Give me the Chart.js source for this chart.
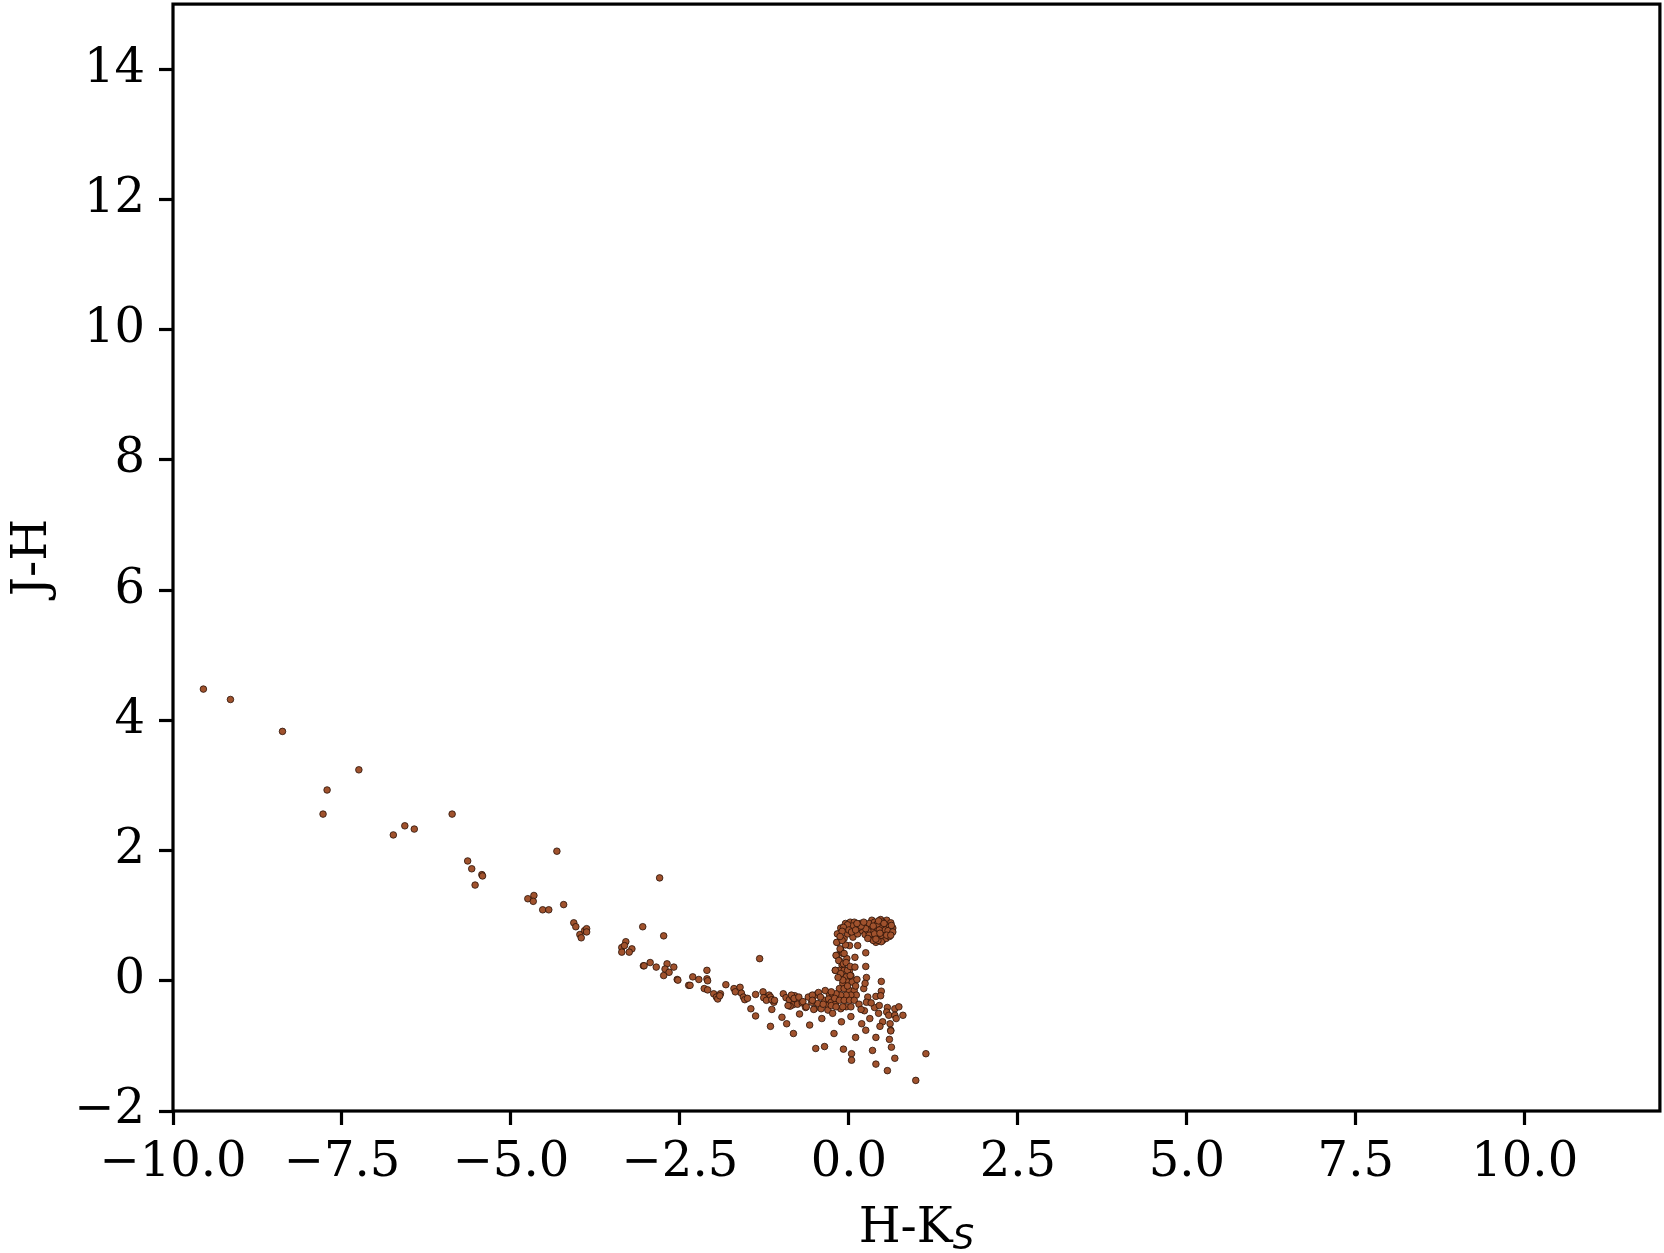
<!DOCTYPE html>
<html>
<head>
<meta charset="utf-8">
<script src="https://cdn.jsdelivr.net/npm/chart.js@4/dist/chart.umd.min.js"></script>
<style>
  html, body { margin: 0; padding: 0; background: #ffffff; }
  #wrap { width: 1664px; height: 1253px; position: relative; }
</style>
</head>
<body>
<div id="wrap"><canvas id="c" width="1664" height="1253"></canvas></div>
<script>
// ---- Data (H-Ks, J-H) ----
const xTickValues = [-10, -7.5, -5, -2.5, 0, 2.5, 5, 7.5, 10];
const yTickValues = [-2, 0, 2, 4, 6, 8, 10, 12, 14];
const xAxisTitle = 'H-K';
const xAxisSub = 'S';
const yAxisTitle = 'J-H';

const tailPoints = [
  [-9.55,4.48],[-9.15,4.32],[-8.38,3.83],[-7.25,3.24],[-7.72,2.93],[-7.78,2.56],[-5.87,2.56],
  [-6.57,2.38],[-6.43,2.33],[-6.74,2.24],[-4.32,1.99],[-5.64,1.84],[-5.58,1.72],[-5.43,1.63],
  [-5.42,1.61],[-5.53,1.47],[-2.80,1.58],[-4.75,1.26],[-4.66,1.31],[-4.67,1.22],[-4.53,1.09],
  [-4.44,1.09],[-4.22,1.17],[-4.07,0.89],[-4.04,0.83],[-3.98,0.71],[-3.96,0.66],[-3.91,0.77],
  [-3.88,0.80],[-3.88,0.75],[-3.05,0.83],[-2.74,0.69],[-3.36,0.51],[-3.30,0.60],[-3.32,0.54],
  [-3.21,0.49],[-3.25,0.44],[-3.36,0.44]
];

const bandPoints = [
  [-3.04,0.23],[-3.03,0.23],[-2.94,0.28],[-2.85,0.21],[-2.69,0.26],[-2.72,0.18],[-2.66,0.13],
  [-2.59,0.21],[-2.74,0.08],[-2.54,0.02],[-2.53,0.01],[-2.37,-0.07],[-2.35,-0.07],[-2.31,0.06],
  [-2.22,0.02],[-2.10,0.16],[-2.10,0.03],[-2.09,0.00],[-2.14,-0.12],[-2.09,-0.14],[-2.00,-0.20],
  [-1.96,-0.25],[-1.94,-0.28],[-1.90,-0.20],[-1.91,-0.23],[-1.82,-0.06],[-1.70,-0.12],[-1.68,-0.17],
  [-1.61,-0.10],[-1.59,-0.19],[-1.56,-0.25],[-1.54,-0.29],[-1.50,-0.27],[-1.45,-0.43],[-1.38,-0.54],
  [-1.38,-0.21],[-1.32,0.34],[-1.27,-0.17],[-1.24,-0.26],[-1.18,-0.22],[-1.16,-0.25],[-1.13,-0.30],
  [-1.11,-0.33],[-1.14,-0.44],[-1.16,-0.70],[-1.26,-0.26],[-1.22,-0.30],[-1.14,-0.29],[-1.10,-0.30]
];

const nearZeroPoints = [
  [-0.99,-0.56],[-0.92,-0.66],[-0.82,-0.81],[-0.97,-0.20],[-0.93,-0.26],[-0.88,-0.29],[-0.83,-0.25],
  [-0.80,-0.23],[-0.78,-0.30],[-0.83,-0.37],[-0.87,-0.39],[-0.76,-0.36],[-0.69,-0.34],[-0.64,-0.41],
  [-0.73,-0.51],[-0.58,-0.68],[-0.49,-1.04],[-0.36,-1.01],[-0.40,-0.58],[-0.85,-0.22],[-0.81,-0.27],
  [-0.74,-0.25],[-0.90,-0.38],[-0.68,-0.32],[-0.63,-0.40],[-0.54,-0.27],[-0.50,-0.22],[-0.46,-0.35],
  [-0.41,-0.43],[-0.36,-0.30],[-0.31,-0.38],[-0.29,-0.20],[-0.24,-0.25],[-0.51,-0.43],[-0.31,-0.45],
  [-0.24,-0.50],[-0.12,-0.43],[-0.04,-0.40],[-0.45,-0.18],[-0.42,-0.25],[-0.35,-0.15],[-0.30,-0.28],
  [-0.26,-0.33],[-0.20,-0.36],[-0.55,-0.33],[-0.60,-0.25],[-0.38,-0.36],[-0.54,-0.22],[-0.54,-0.30],
  [-0.52,-0.44]
];

const columnPoints = [
  [-0.14,0.72],[-0.17,0.59],[-0.12,0.47],[-0.18,0.39],[-0.14,0.31],[-0.09,0.42],[-0.03,0.34],
  [-0.10,0.24],[-0.20,0.16],[-0.14,0.16],[-0.07,0.16],[0.01,0.16],[-0.12,0.08],[-0.04,0.06],
  [0.03,0.08],[0.06,0.01],[-0.02,-0.02],[-0.09,-0.04],[-0.14,-0.12],[-0.07,-0.12],[0.01,-0.15],
  [0.08,-0.15],[0.11,-0.22],[0.03,-0.22],[-0.04,-0.22],[-0.12,-0.22],[-0.19,-0.20],[-0.26,-0.17],
  [-0.21,-0.27],[-0.14,-0.30],[-0.07,-0.30],[0.01,-0.30],[0.08,-0.30],[-0.26,-0.38],[-0.19,-0.40],
  [-0.09,-0.40],[0.03,-0.40],[-0.12,0.81],[-0.17,0.72],[-0.18,0.59],[-0.13,0.49],[-0.19,0.39],
  [-0.07,0.42],[-0.15,0.31],[-0.08,0.26],[-0.20,0.16],[-0.12,0.11],[-0.02,0.16],[0.02,0.08],
  [-0.09,0.01],[0.05,-0.02],[0.01,0.54],[-0.07,0.65],[-0.02,0.72],[0.06,0.67],[0.13,0.72],
  [-0.05,0.55],[-0.10,0.62],[-0.04,0.28],[0.02,0.22],[-0.16,0.05],[0.10,-0.08],[0.12,0.02],
  [-0.02,-0.08]
];

const spreadPoints = [
  [0.13,0.54],[0.25,0.43],[0.09,0.36],[0.25,0.22],[0.09,0.21],[0.26,0.05],[0.22,-0.12],[0.48,-0.01],
  [0.48,-0.16],[0.40,-0.24],[0.47,-0.23],[0.28,-0.25],[0.15,-0.36],[0.24,-0.04],[0.26,-0.33],
  [0.23,-0.46],[0.31,-0.58],[0.38,-0.41],[0.45,-0.38],[0.44,-0.50],[0.50,-0.63],[0.46,-0.70],
  [0.57,-0.41],[0.56,-0.48],[0.59,-0.53],[0.68,-0.43],[0.74,-0.40],[0.68,-0.53],[0.70,-0.58],
  [0.80,-0.53],[0.61,-0.66],[0.62,-0.76],[0.60,-0.90],[0.63,-1.02],[0.68,-1.19],[-0.11,-0.63],
  [0.03,-0.55],[0.19,-0.66],[0.25,-0.76],[-0.22,-0.81],[0.10,-0.87],[0.40,-0.87],[0.62,-0.77],
  [-0.08,-1.05],[0.04,-1.12],[0.04,-1.22],[0.35,-1.07],[0.40,-1.28],[0.57,-1.38],[1.14,-1.12],
  [0.99,-1.53],[0.33,-0.34],[0.18,-0.44]
];

const loopPoints = [
  [-0.05,0.88],[0.02,0.90],[0.08,0.90],[0.17,0.88],[0.34,0.93],[0.47,0.94],[0.56,0.93],[0.62,0.89],
  [0.65,0.81],[0.61,0.75],[0.50,0.84],[0.40,0.80],[0.30,0.81],[0.20,0.77],[0.24,0.71],[0.33,0.65],
  [0.40,0.59],[0.45,0.65],[0.52,0.70],[0.59,0.72],[0.38,0.67],[0.10,0.85],[0.25,0.86],[0.30,0.88],
  [0.38,0.90],[0.42,0.87],[0.50,0.90],[0.55,0.85],[0.60,0.83],[0.45,0.78],[0.35,0.75],[0.28,0.77],
  [0.42,0.70],[0.50,0.62],[0.55,0.65],[0.60,0.68],[0.48,0.60],[0.43,0.62],[0.36,0.62],[0.30,0.70],
  [0.25,0.80],[0.15,0.82],[0.05,0.84],[-0.02,0.86],[-0.08,0.82],[-0.10,0.76],[-0.13,0.68],[0.00,0.78],
  [0.04,0.75],[0.10,0.78],[0.18,0.84],[0.54,0.78],[0.58,0.77],[0.63,0.85],[0.65,0.75],[0.44,0.92],
  [0.52,0.88],[0.36,0.84],[0.22,0.90],[0.12,0.88],[0.48,0.70],[0.56,0.70],[0.38,0.72],[0.28,0.65],
  [0.62,0.70],[0.40,0.64],[0.46,0.73]
];

const allPoints = [].concat(tailPoints, bandPoints, nearZeroPoints, columnPoints, spreadPoints, loopPoints)
  .map(p => ({ x: p[0], y: p[1] }));

const FONT = "'DejaVu Serif'";
const fmtMinus = s => String(s).replace('-', '\u2212');

const framePlugin = {
  id: 'frame',
  afterDraw(chart) {
    const { ctx, chartArea: a } = chart;
    ctx.save();
    ctx.strokeStyle = '#000';
    ctx.lineWidth = 3.2;
    ctx.strokeRect(a.left, a.top, a.right - a.left, a.bottom - a.top);

    // y-axis title
    ctx.fillStyle = '#000';
    ctx.font = '48px ' + FONT;
    ctx.textAlign = 'center';
    ctx.textBaseline = 'alphabetic';
    ctx.save();
    ctx.translate(46, (a.top + a.bottom) / 2);
    ctx.rotate(-Math.PI / 2);
    ctx.fillText(yAxisTitle, 0, 0);
    ctx.restore();

    // x-axis title with subscript
    ctx.font = '48px ' + FONT;
    const wMain = ctx.measureText(xAxisTitle).width;
    ctx.font = "oblique 34px 'DejaVu Sans'";
    const wSub = ctx.measureText(xAxisSub).width;
    const cx = (a.left + a.right) / 2;
    const x0 = cx - (wMain + wSub) / 2;
    ctx.textAlign = 'left';
    ctx.font = '48px ' + FONT;
    ctx.fillText(xAxisTitle, x0, 1242);
    ctx.font = "oblique 34px 'DejaVu Sans'";
    ctx.fillText(xAxisSub, x0 + wMain, 1249);
    ctx.restore();
  }
};

new Chart(document.getElementById('c'), {
  type: 'scatter',
  data: {
    datasets: [{
      data: allPoints,
      backgroundColor: '#a0522d',
      borderColor: '#2a1208',
      borderWidth: 0.8,
      pointRadius: 3.3,
      pointHoverRadius: 3.3
    }]
  },
  options: {
    responsive: false,
    animation: false,
    devicePixelRatio: 1,
    layout: { padding: { top: 2, right: 3, left: 0, bottom: 0 } },
    plugins: { legend: { display: false }, tooltip: { enabled: false } },
    scales: {
      x: {
        type: 'linear',
        min: -10, max: 12,
        afterFit(scale) { scale.height = 142; scale.paddingLeft = 0; scale.paddingRight = 0; },
        afterBuildTicks(scale) { scale.ticks = xTickValues.map(v => ({ value: v })); },
        border: { display: false },
        grid: { drawOnChartArea: false, drawTicks: true, tickLength: 14, tickWidth: 3.2, tickColor: '#000', color: '#000' },
        ticks: {
          font: { family: 'DejaVu Serif', size: 48 },
          color: '#000',
          padding: 10,
          maxRotation: 0,
          autoSkip: false,
          callback: v => fmtMinus(Number(v).toFixed(1))
        }
      },
      y: {
        type: 'linear',
        min: -2, max: 15,
        afterFit(scale) { scale.width = 173; scale.paddingTop = 0; scale.paddingBottom = 0; },
        afterBuildTicks(scale) { scale.ticks = yTickValues.map(v => ({ value: v })); },
        border: { display: false },
        grid: { drawOnChartArea: false, drawTicks: true, tickLength: 14, tickWidth: 3.2, tickColor: '#000', color: '#000' },
        ticks: {
          font: { family: 'DejaVu Serif', size: 48 },
          color: '#000',
          padding: 14,
          autoSkip: false,
          callback: v => fmtMinus(String(v))
        }
      }
    }
  },
  plugins: [framePlugin]
});
</script>
</body>
</html>
